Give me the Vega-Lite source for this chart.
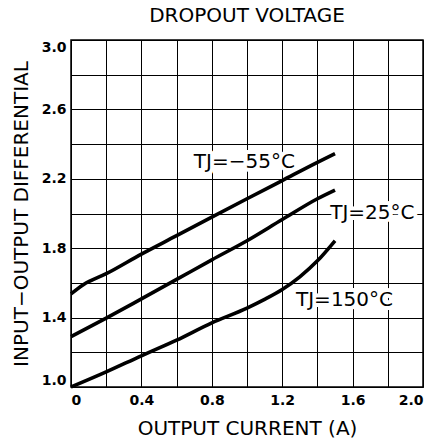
{
  "$schema": "https://vega.github.io/schema/vega-lite/v6.json",
  "width": 439,
  "height": 444,
  "autosize": {"type": "fit", "contains": "padding"},
  "padding": {"left": 11, "top": 6, "right": 16, "bottom": 6},
  "background": "white",
  "title": {
    "text": "DROPOUT VOLTAGE",
    "font": "DejaVu Sans",
    "fontSize": 20,
    "fontWeight": "normal",
    "color": "black",
    "anchor": "middle",
    "frame": "group",
    "offset": 14
  },
  "datasets": {
    "curves": [
      {"series": "-55", "x": 0, "y": 1.537},
      {"series": "-55", "x": 0.07, "y": 1.59},
      {"series": "-55", "x": 0.2, "y": 1.653},
      {"series": "-55", "x": 0.4, "y": 1.766},
      {"series": "-55", "x": 0.6, "y": 1.872},
      {"series": "-55", "x": 0.8, "y": 1.979},
      {"series": "-55", "x": 1.0, "y": 2.085},
      {"series": "-55", "x": 1.2, "y": 2.19},
      {"series": "-55", "x": 1.4, "y": 2.295},
      {"series": "-55", "x": 1.5, "y": 2.345},
      {"series": "25", "x": 0, "y": 1.29},
      {"series": "25", "x": 0.2, "y": 1.397},
      {"series": "25", "x": 0.4, "y": 1.508},
      {"series": "25", "x": 0.6, "y": 1.62},
      {"series": "25", "x": 0.8, "y": 1.733},
      {"series": "25", "x": 1.0, "y": 1.843},
      {"series": "25", "x": 1.2, "y": 1.965},
      {"series": "25", "x": 1.4, "y": 2.085},
      {"series": "25", "x": 1.5, "y": 2.135},
      {"series": "150", "x": 0, "y": 1.0},
      {"series": "150", "x": 0.2, "y": 1.087},
      {"series": "150", "x": 0.4, "y": 1.18},
      {"series": "150", "x": 0.6, "y": 1.27},
      {"series": "150", "x": 0.8, "y": 1.37},
      {"series": "150", "x": 1.0, "y": 1.455},
      {"series": "150", "x": 1.1, "y": 1.505},
      {"series": "150", "x": 1.2, "y": 1.562},
      {"series": "150", "x": 1.3, "y": 1.635},
      {"series": "150", "x": 1.4, "y": 1.727},
      {"series": "150", "x": 1.5, "y": 1.843}
    ],
    "labels": [
      {"label": "TJ=−55°C", "x": 0.985, "y": 2.298},
      {"label": "TJ=25°C", "x": 1.712, "y": 2.005},
      {"label": "TJ=150°C", "x": 1.554, "y": 1.5}
    ]
  },
  "encoding": {
    "x": {
      "field": "x",
      "type": "quantitative",
      "scale": {"domain": [0, 2], "nice": false, "zero": false},
      "axis": {
        "values": [0, 0.2, 0.4, 0.6, 0.8, 1.0, 1.2, 1.4, 1.6, 1.8, 2.0],
        "labelExpr": "round(datum.value*10) % 4 == 0 ? (datum.value == 0 ? '0' : format(datum.value, '.1f')) : ''",
        "labelPadding": 6,
        "title": "OUTPUT CURRENT (A)",
        "titlePadding": 11
      }
    },
    "y": {
      "field": "y",
      "type": "quantitative",
      "scale": {"domain": [1, 3], "nice": false, "zero": false},
      "axis": {
        "values": [1.0, 1.2, 1.4, 1.6, 1.8, 2.0, 2.2, 2.4, 2.6, 2.8, 3.0],
        "labelExpr": "round(datum.value*10) % 4 == 2 ? format(datum.value, '.1f') : ''",
        "labelPadding": 5,
        "labelFlush": true,
        "title": "INPUT−OUTPUT DIFFERENTIAL",
        "titlePadding": 10
      }
    }
  },
  "layer": [
    {
      "data": {"name": "curves"},
      "mark": {"type": "line", "color": "black", "strokeWidth": 3.6, "interpolate": "monotone", "strokeCap": "butt"},
      "encoding": {"detail": {"field": "series", "type": "nominal"}}
    },
    {
      "data": {"name": "labels"},
      "mark": {"type": "text", "font": "DejaVu Sans", "fontSize": 20, "align": "center", "baseline": "middle", "fill": "white", "stroke": "white", "strokeWidth": 8, "strokeJoin": "round"},
      "encoding": {"text": {"field": "label", "type": "nominal"}}
    },
    {
      "data": {"name": "labels"},
      "mark": {"type": "text", "font": "DejaVu Sans", "fontSize": 20, "align": "center", "baseline": "middle", "fill": "black"},
      "encoding": {"text": {"field": "label", "type": "nominal"}}
    }
  ],
  "config": {
    "view": {"stroke": "black", "strokeWidth": 1.5},
    "axis": {
      "domain": false,
      "ticks": false,
      "grid": true,
      "gridColor": "black",
      "gridOpacity": 1,
      "gridWidth": 1,
      "labelFont": "DejaVu Sans",
      "labelFontSize": 14,
      "labelFontWeight": "bold",
      "labelColor": "black",
      "titleFont": "DejaVu Sans",
      "titleFontSize": 20,
      "titleFontWeight": "normal",
      "titleColor": "black"
    }
  }
}
